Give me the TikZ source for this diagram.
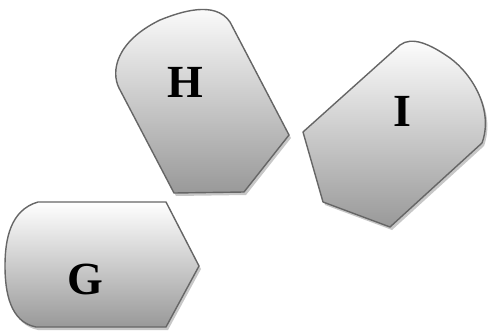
\documentclass[tikz,border=0pt]{standalone}
\usepackage{fontspec}
\setmainfont{Liberation Serif}
\begin{document}
\begin{tikzpicture}[x=1pt,y=-1pt,
  shapebox/.style={draw=black!60,line width=1.4pt,line join=round,top color=white,bottom color=black!40},
  shadowbox/.style={fill=black!22,draw=none},
  lbl/.style={font=\fontsize{46}{52}\selectfont\bfseries,text=black}]
\useasboundingbox (0,0) rectangle (489,332);
% shadows
\begin{scope}[shift={(2,3)}]
\fill[shadowbox] (230,22) -- (289,135) -- (244,192) -- (174,193) -- (119,88) .. controls (111,72) and (115,42) .. (160,20) .. controls (180,12) and (215,0) .. (230,22) -- cycle;
\fill[shadowbox] (303,132) -- (400,45) .. controls (412,36) and (430,44) .. (450,58) .. controls (472,74) and (494,110) .. (482,143) -- (390,227) -- (323,202) -- cycle;
\fill[shadowbox] (38,202) -- (166,202) -- (199,266) -- (166,327) -- (36,327) .. controls (10,322) and (5,292) .. (5,266) .. controls (5,240) and (10,210) .. (38,202) -- cycle;
\end{scope}
% shapes
\path[shapebox] (230,22) -- (289,135) -- (244,192) -- (174,193) -- (119,88) .. controls (111,72) and (115,42) .. (160,20) .. controls (180,12) and (215,0) .. (230,22) -- cycle;
\path[shapebox] (303,132) -- (400,45) .. controls (412,36) and (430,44) .. (450,58) .. controls (472,74) and (494,110) .. (482,143) -- (390,227) -- (323,202) -- cycle;
\path[shapebox] (38,202) -- (166,202) -- (199,266) -- (166,327) -- (36,327) .. controls (10,322) and (5,292) .. (5,266) .. controls (5,240) and (10,210) .. (38,202) -- cycle;
% labels
\node[lbl] (H) at (185,82) {H};
\node[lbl] (I) at (402,111) {I};
\node[lbl] (G) at (85,279) {G};
\end{tikzpicture}
\end{document}
